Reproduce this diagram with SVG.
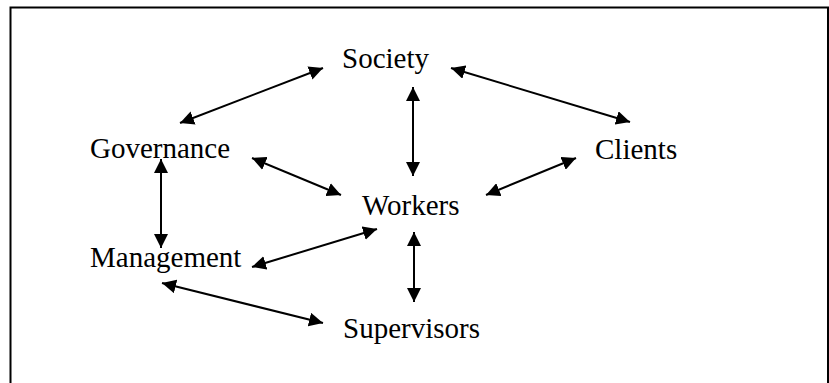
<svg xmlns="http://www.w3.org/2000/svg" width="829" height="383" viewBox="0 0 829 383">
<style>
.lbl{font-family:"Liberation Serif","Times New Roman",serif;font-size:29px;fill:#000}
.con{stroke:#000;stroke-width:2;fill:none;marker-start:url(#ah);marker-end:url(#ah)}
.frame{stroke:#000;stroke-width:2;fill:none}
</style>
<defs>
<marker id="ah" markerUnits="userSpaceOnUse" markerWidth="14" markerHeight="14" viewBox="0 0 14 14" refX="14" refY="7" orient="auto-start-reverse">
<path d="M0,0 L14,7 L0,14 z" fill="#000"/>
</marker>
</defs>
<rect width="829" height="383" fill="#fff"/>
<path class="frame" d="M10.5,383 V7.5 H828 V383"/>
<g id="connectors">
<line class="con" x1="180" y1="123" x2="323" y2="68"/>
<line class="con" x1="451" y1="68" x2="630" y2="122"/>
<line class="con" x1="413" y1="87" x2="413" y2="176"/>
<line class="con" x1="252" y1="158" x2="341" y2="195"/>
<line class="con" x1="486" y1="195" x2="576" y2="158"/>
<line class="con" x1="161" y1="159" x2="161" y2="248"/>
<line class="con" x1="252" y1="267" x2="377" y2="229"/>
<line class="con" x1="414" y1="232" x2="414" y2="302"/>
<line class="con" x1="162" y1="283" x2="323" y2="323"/>
</g>
<g id="society"><text class="lbl" x="342" y="68">Society</text></g>
<g id="governance"><text class="lbl" x="90" y="158">Governance</text></g>
<g id="clients"><text class="lbl" x="595" y="159">Clients</text></g>
<g id="workers"><text class="lbl" x="362" y="215">Workers</text></g>
<g id="management"><text class="lbl" x="90" y="267">Management</text></g>
<g id="supervisors"><text class="lbl" x="343" y="338">Supervisors</text></g>
</svg>
